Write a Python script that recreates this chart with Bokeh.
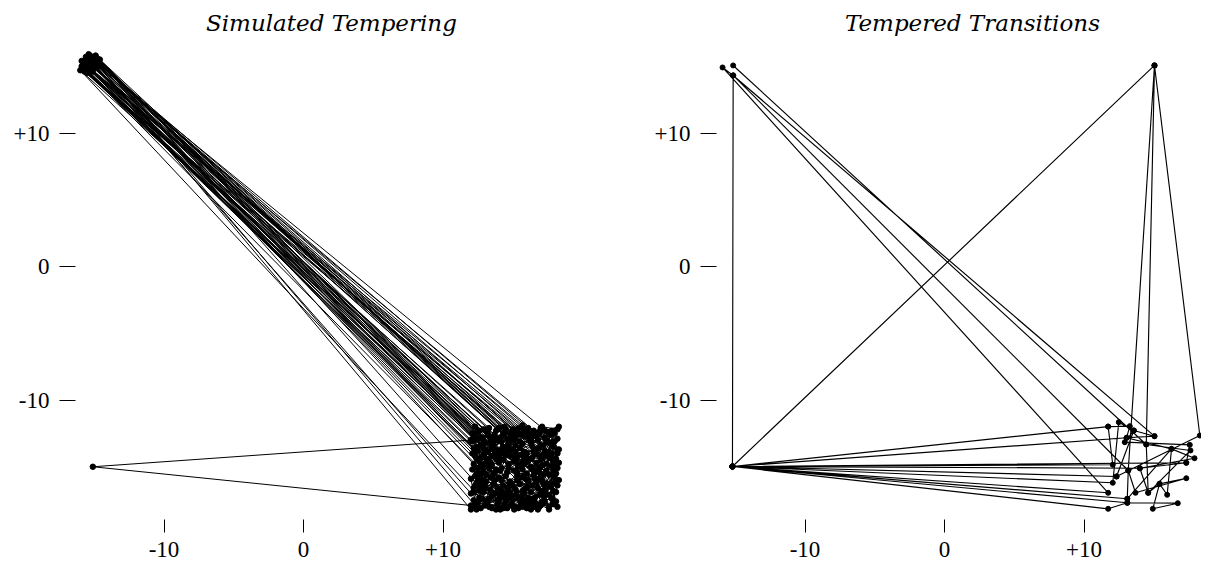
from bokeh.plotting import figure
from bokeh.layouts import row
from bokeh.models import FixedTicker, CustomJSTickFormatter
from bokeh.embed import file_html
from bokeh.resources import INLINE
from bokeh.core.properties import value

# ---------------- data ----------------
tick_values = [-10, 0, 10]
titles = ["Simulated Tempering", "Tempered Transitions"]

# Simulated tempering trajectory (path order)
st_x = [
    14.2, 15.8, 13.1, 12.6, 14.9, 16.7, 17.4, 15.5, -15.2,
    12.4, 13.8, 16.2, 17.9, 16.4, 14.3, 13.0, 15.6, 17.8, -14.8,
    13.5, 15.1, 17.2, 18.1, 16.9, 14.6, 12.2, 12.9, -15.7,
    12.1, 14.7, 16.6, 18.2, 17.1, 15.2, 13.6, 15.9, -15.4, -15.9,
    13.3, 12.3, 14.0, 16.1, 17.6, 18.2, 16.3, 14.4, -14.6,
    15.0, 13.2, 12.5, 13.9, 15.3, 17.0, 17.9, 16.8, 15.7, -15.1,
    12.8, 14.5, 16.0, 14.8, 12.7, 13.6, 15.4, 17.3, 16.5, -15.6,
    12.2, 13.9, 15.8, 17.5, 16.2, 14.1, 12.4, 13.4, 14.9, -15.0,
    17.7, 16.0, 14.6, 13.0, 14.4, 15.9, 17.3, 18.3, 17.0, 15.3, -15.8,
    13.7, 12.6, 14.2, 16.4, 17.8, 16.9, 15.0, 13.3, 12.0, -14.9,
    12.9, 14.0, 15.6, 17.1, 15.1, 13.5, 12.3, 14.8, 16.7, -15.3,
    16.1, 17.4, 18.1, 16.6, 15.2, 13.8, 12.6, 13.1, 14.3, 13.2, -15.5,
    12.7, 14.9, 16.3, 18.0, 17.2, 15.7, 14.5, 12.9, 12.2, -14.7,
    14.0, 15.5, 17.0, 16.1, 14.7, 13.4, 14.1, 16.6, 18.2, 17.6, -15.2, -15.6,
    13.0, 12.1, 13.7, 15.9, 17.5, 18.3, 16.8, 15.0, 13.3, -16.0,
    12.3, 13.6, 15.3, 17.1, 17.9, 16.0, 14.2, 12.8, 14.6, -15.1,
    16.9, 15.6, 14.3, 12.5, 13.1, 14.7, 16.4, 17.7, 18.0, 16.2, -14.5,
    14.4, 12.9, 12.2, 13.9, 15.4, 16.7, 15.2, 17.3, 15.8, -15.9,
    13.4, 14.6, 16.5, 17.8, 16.3, 14.0, 12.4, 12.0, 13.8, -15.3,
    12.6, 14.1, 15.7, 17.0, 18.2, 17.4, 15.9, 14.4, 13.2, 12.3, -14.8,
    15.1, 16.8, 18.1, 17.3, 15.5, 13.6, 12.4, 13.9, 15.4, -15.7,
    12.1, 13.5, 14.8, 16.2, 17.6, 18.2, 16.5, 15.3, 13.8, -15.0,
    12.8, 14.2, 16.0, 17.2, 16.1, 14.5, 13.3, 15.1, 16.9, -15.4,
    12.2, 13.1, 14.7, 16.4, 17.9, 17.0, 15.8, 14.3, 12.6, -14.6,
    13.9, 15.2, 16.7, 18.0, 17.5, 16.0, 14.9, 13.0, 12.5, 14.0, -15.8,
    12.4, 13.2, 15.0, 16.3, 17.6, 16.8, 15.2, 13.7, 12.0, -15.1,
    12.0, 13.5, 15.4, 17.1, 18.3, 17.0, 15.6, 14.1, 12.7, -15.2,
    14.8, 16.6, 17.8, 16.9, 15.3, 13.7, 12.5, 12.9, 13.6, -15.6,
    12.3, 14.4, 15.9, 17.4, 18.1, 16.5, 14.8, 13.4, 12.9, -14.9,
    13.8, 15.6, 17.3, 18.2, 16.7, 15.0, 13.5, 12.2, 12.7, 14.5, -15.3,
    12.6, 14.0, 15.7, 17.2, 16.0, 14.2, 12.8, 13.3, 15.1, -15.7,
    16.4, 17.7, 18.0, 16.6, 15.4, 13.9, 12.4, 12.9, 14.3, -15.0,
    12.1, 13.4, 15.5, 16.9, 18.3, 17.1, 15.8, 14.6, 13.1, 12.0, -15.4,
    13.7, 15.2, 16.8, 17.9, 16.3, 14.5, 12.7, 13.5, 15.6, -15.9,
    12.5, 14.1, 15.9, 17.5, 18.1, 17.3, 15.7, 14.0, 12.3, 13.0, 14.7, 16.3, 17.8, 18.2,
]
st_y = [
    -15.1, -13.9, -14.4, -16.8, -17.2, -16.1, -14.2, -12.6, 15.1,
    -13.0, -12.3, -12.9, -13.5, -15.2, -16.4, -17.9, -17.8, -17.4, 15.6,
    -13.6, -14.6, -15.6, -16.9, -18.0, -18.1, -17.5, -15.4, 14.8,
    -12.5, -13.2, -14.0, -12.2, -12.0, -13.4, -15.9, -16.6, 15.4, 15.0,
    -12.1, -14.2, -15.8, -17.3, -18.2, -15.1, -13.2, -12.0, 15.2,
    -12.2, -13.9, -15.9, -17.6, -16.0, -16.8, -15.3, -13.0, -11.9, 14.6,
    -12.8, -14.1, -15.5, -16.9, -18.1, -16.3, -14.9, -13.8, -12.3, 15.7,
    -13.6, -13.0, -14.4, -16.3, -17.9, -17.0, -16.2, -14.7, -12.7, 15.3,
    -12.6, -14.0, -15.4, -16.6, -18.0, -17.5, -17.0, -14.7, -13.4, -12.4, 15.3,
    -12.6, -14.6, -16.0, -16.4, -14.0, -12.5, -13.7, -15.1, -17.0, 14.9,
    -12.2, -14.3, -15.8, -17.6, -18.2, -17.2, -15.7, -13.8, -14.7, 15.8,
    -12.1, -13.1, -14.4, -15.9, -17.1, -18.2, -17.3, -15.6, -13.5, -12.4, 14.5,
    -13.4, -14.2, -15.0, -15.8, -17.2, -16.8, -17.6, -16.9, -14.8, 15.4,
    -12.1, -13.1, -14.5, -16.0, -15.1, -16.7, -18.2, -17.7, -18.0, -15.6, 15.0, 15.5,
    -13.2, -15.2, -14.0, -12.7, -12.4, -13.7, -16.6, -17.5, -18.0, 14.7,
    -12.0, -13.3, -15.4, -16.0, -17.8, -18.1, -16.8, -15.0, -12.9, 15.6,
    -13.6, -14.8, -14.5, -13.8, -16.1, -16.5, -17.4, -16.5, -13.1, -12.5, 15.0,
    -12.4, -14.1, -16.6, -17.9, -17.3, -15.3, -13.9, -12.8, -12.3, 15.4,
    -12.9, -13.6, -13.9, -15.0, -16.9, -17.4, -18.2, -15.9, -15.2, 14.7,
    -12.3, -12.8, -13.3, -12.1, -12.9, -14.8, -15.9, -17.3, -17.6, -17.9, 15.2,
    -15.3, -14.1, -15.5, -16.7, -16.3, -15.5, -14.4, -12.9, -12.1, 15.1,
    -13.1, -14.9, -16.1, -17.6, -18.0, -16.4, -15.6, -14.3, -13.7, 15.7,
    -14.3, -13.1, -12.4, -13.4, -14.6, -15.7, -17.4, -18.0, -17.1, 14.6,
    -12.7, -13.8, -14.8, -14.3, -14.6, -15.8, -17.0, -18.1, -16.5, 15.5,
    -12.2, -12.9, -13.7, -12.5, -13.9, -16.6, -17.8, -16.4, -15.1, -14.7, 14.9,
    -13.5, -12.6, -13.0, -14.4, -17.1, -18.2, -16.7, -16.0, -17.9, -15.0,
    -13.0, -14.2, -15.0, -14.9, -16.0, -17.9, -17.4, -15.3, -14.9, 15.3,
    -12.5, -12.7, -13.3, -15.1, -15.6, -17.0, -17.7, -16.0, -12.8, 15.0,
    -13.8, -13.9, -14.7, -15.3, -17.6, -18.0, -17.3, -15.8, -13.0, 15.8,
    -14.4, -14.1, -12.3, -14.0, -16.2, -16.4, -18.1, -16.9, -15.5, -12.2, 15.2,
    -12.9, -13.8, -15.2, -16.3, -17.7, -17.1, -17.4, -14.6, -12.6, 14.6,
    -13.5, -14.3, -16.2, -17.3, -18.1, -16.6, -15.5, -13.6, -12.6, 15.0,
    -14.0, -13.1, -13.6, -12.4, -12.0, -14.2, -15.7, -16.6, -17.7, -18.2, 15.9,
    -15.5, -14.5, -15.4, -16.8, -18.2, -17.0, -16.1, -13.5, -12.5, 14.8,
    -12.4, -14.0, -14.3, -13.1, -14.9, -17.6, -18.0, -17.5, -16.4, -14.8, -13.4, -13.0, -12.3, -13.8,
]

# Tempered transitions trajectory (path order)
tt_x = [
    -15.15, 14.46, 17.63, 14.60, 15.41, 17.33, 13.69, 13.17, 15.05, -15.2,
    11.73, 13.28, 13.05, 16.27, 17.92, 14.00, -15.2, 15.05, 18.30, 12.33,
    -15.2, 12.06, 12.49, 13.57, 12.92, 17.58, 17.33, -15.2, -15.15, 15.05,
    13.05, -15.2, 12.06, 11.73, -15.2, 15.05, 14.46, 14.60, 14.00, 17.33,
    -15.2, 13.10, 16.72, 14.93, 15.41, 15.96, 16.27, 13.10, -15.2, 11.73,
    13.10, -15.2, 11.73, -15.91, -15.15, 15.05, 13.57, 12.33, -15.2, 13.10,
    13.17, -15.15,
]
tt_y = [
    15.06, -13.33, -13.78, -16.95, -16.28, -15.86, -16.95, -15.28, 15.06, -14.98,
    -11.99, -11.96, -12.83, -13.66, -14.36, -15.11, -14.98, 15.06, -12.66, -15.73,
    -14.98, -16.20, -11.66, -12.28, -13.16, -13.36, -14.70, -14.98, 14.31, -12.71,
    -12.83, -14.98, -14.85, -11.99, -14.98, 15.06, -13.33, -16.95, -15.11, -14.70,
    -14.98, -17.70, -17.73, -18.15, -16.28, -17.10, -13.66, -17.40, -14.98, -18.15,
    -17.70, -14.98, -16.95, 14.91, 14.31, -12.71, -12.28, -15.73, -14.98, -17.40,
    -15.28, 14.31,
]

# ---------------- layout ----------------
Y0, Y1 = -18.951, 19.326
X0 = -16.344


def make_panel(xs, ys, title, width, border_left, x_end, lw, msize):
    p = figure(width=width, height=563, output_backend="svg", toolbar_location=None,
               x_range=(X0, x_end), y_range=(Y0, Y1),
               min_border_left=border_left, min_border_right=0,
               min_border_top=8, min_border_bottom=44)
    p.outline_line_color = None
    p.grid.visible = False
    p.background_fill_color = "white"
    p.border_fill_color = "white"

    fmt = CustomJSTickFormatter(code="return tick > 0 ? '+' + tick : String(tick);")
    for ax, tout, stand in ((p.xaxis, 13, 9), (p.yaxis, 16, 10)):
        ax.ticker = FixedTicker(ticks=tick_values)
        ax.formatter = fmt
        ax.axis_line_color = None
        ax.major_tick_in = 0
        ax.major_tick_out = tout
        ax.major_tick_line_color = "black"
        ax.major_tick_line_width = 1
        ax.minor_tick_line_color = None
        ax.major_label_text_font = "Liberation Serif"
        ax.major_label_text_font_size = "23px"
        ax.major_label_text_color = "black"
        ax.major_label_standoff = stand

    p.line(xs, ys, line_color="black", line_width=lw)
    p.scatter(xs, ys, size=msize, color="black")

    p.text(x=[2.0], y=[18.27], text=[title], text_font=value("DejaVu Serif"),
           text_font_style="italic", text_font_size="23px", text_color="black",
           text_align="center", text_baseline="alphabetic")
    return p


p1 = make_panel(st_x, st_y, titles[0], 608, 75, 21.86, 1.0, 5.5)
p2 = make_panel(tt_x, tt_y, titles[1], 593, 108, 18.42, 1.15, 5)

layout = row(p1, p2)
open("out.html", "w").write(file_html(layout, INLINE))
